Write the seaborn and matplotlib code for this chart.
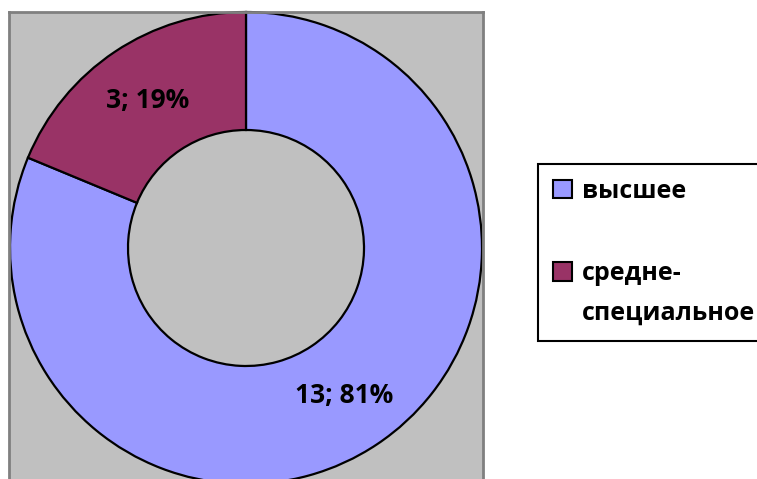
import matplotlib
matplotlib.use("Agg")
import matplotlib.pyplot as plt
import seaborn as sns
from matplotlib.patches import Rectangle
from matplotlib.legend_handler import HandlerPatch

# data
categories = ["высшее", "средне-\nспециальное"]
counts = [13, 3]
colors = ["#9999FF", "#993366"]

sns.set_theme(style="white")
plt.rcParams["font.family"] = ["Open Sans", "DejaVu Sans"]
plt.rcParams["text.color"] = "black"

total = sum(counts)

fig = plt.figure(figsize=(7.57, 4.79), dpi=100)
fig.patch.set_facecolor("white")
ax = fig.add_axes([9 / 757, 0, (483 - 9) / 757, (479 - 12) / 479])

wedges, texts, autotexts = ax.pie(
    counts,
    colors=colors,
    startangle=90,
    counterclock=False,
    radius=236,
    pctdistance=0.75,
    autopct=lambda p: f"{round(p * total / 100)}; {p:.0f}%",
    wedgeprops=dict(width=118, edgecolor="black", linewidth=1.6),
    textprops=dict(fontsize=19, fontweight="bold", color="black"),
)

ax.set_xlim(9 - 246, 483 - 246)
ax.set_ylim(248 - 479, 248 - 12)
ax.set_aspect("auto")
ax.set_frame_on(True)
ax.set_facecolor("#C0C0C0")
ax.set_xticks([])
ax.set_yticks([])
for side, sp in ax.spines.items():
    sp.set_color("#808080")
    sp.set_linewidth(2)
ax.spines["bottom"].set_visible(False)


def top_aligned_patch(legend, orig_handle, xdescent, ydescent, width, height, fontsize):
    # shift the swatch up to the first text line for multi-line labels
    shift = getattr(orig_handle, "_shift", 0)
    return Rectangle((-xdescent, -ydescent + shift), width, height)


handles = []
for lab, col in zip(categories, colors):
    h = Rectangle((0, 0), 1, 1, facecolor=col, edgecolor="black", linewidth=1.5)
    h._shift = 16.5 if "\n" in lab else 0
    handles.append(h)

leg = fig.legend(
    handles,
    categories,
    loc="upper left",
    bbox_to_anchor=(538 / 757, 1 - 164 / 479),
    bbox_transform=fig.transFigure,
    borderaxespad=0,
    prop=dict(weight="bold", size=18),
    handlelength=0.74,
    handleheight=0.74,
    handletextpad=0.4,
    labelspacing=2.3,
    borderpad=0.6,
    fancybox=False,
    framealpha=1,
    edgecolor="black",
    handler_map={Rectangle: HandlerPatch(patch_func=top_aligned_patch)},
)
leg.get_frame().set_linewidth(1.5)
for t in leg.get_texts():
    t.set_color("black")
    t.set_linespacing(1.75)

fig.savefig("out.png", dpi=100)
